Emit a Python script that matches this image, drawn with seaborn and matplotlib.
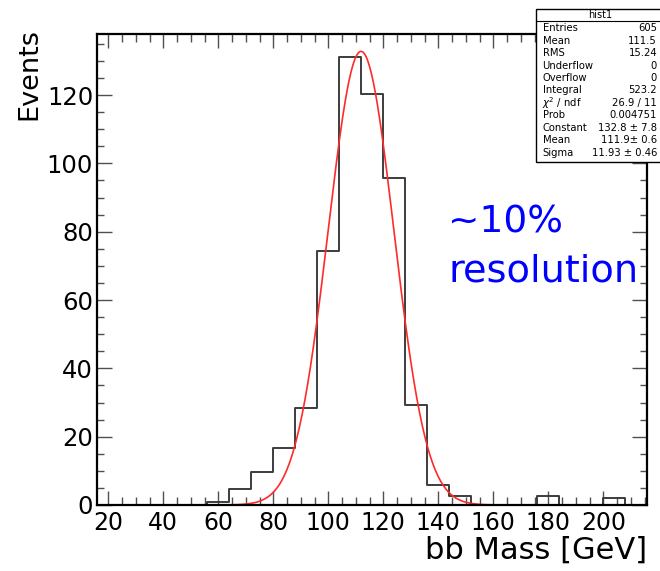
import numpy as np
import pandas as pd
import matplotlib
matplotlib.use("Agg")
import matplotlib.pyplot as plt
from matplotlib.patches import Rectangle
from matplotlib.lines import Line2D
from matplotlib.ticker import MultipleLocator
import seaborn as sns

# ---------------- data ----------------
bin_low = [16, 24, 32, 40, 48, 56, 64, 72, 80, 88, 96, 104, 112, 120,
           128, 136, 144, 152, 160, 168, 176, 184, 192, 200, 208]
bin_width = 8
counts = [0, 0, 0, 0, 0, 1.0, 4.6, 9.6, 16.6, 28.3, 74.4, 131.1, 120.3,
          95.8, 29.3, 5.9, 2.6, 0, 0, 0, 2.6, 0, 0, 2.0, 0]

# Gaussian fit parameters (from the stat box)
fit_constant = 132.8
fit_mean = 111.9
fit_sigma = 11.93

stat_labels = ["Entries", "Mean", "RMS", "Underflow", "Overflow", "Integral",
               r"$\chi^2$ / ndf", "Prob", "Constant", "Mean", "Sigma"]
stat_values = ["605", "111.5", "15.24", "0", "0", "523.2", "26.9 / 11",
               "0.004751", "132.8 \u00b1 7.8", "111.9\u00b1 0.6", "11.93 \u00b1 0.46"]

x_ticks = [20, 40, 60, 80, 100, 120, 140, 160, 180, 200]
y_ticks = [0, 20, 40, 60, 80, 100, 120]

# ---------------- figure ----------------
sns.set_theme(style="ticks")
plt.rcParams["font.family"] = ["DejaVu Sans"]
plt.rcParams["text.color"] = "black"
plt.rcParams["axes.labelcolor"] = "black"

W, H = 660, 571
fig = plt.figure(figsize=(W / 100, H / 100), dpi=100)
fig.patch.set_facecolor("white")
ax_l, ax_r, ax_t, ax_b = 97.3, 647.3, 34.3, 505.0
ax = fig.add_axes([ax_l / W, 1 - ax_b / H, (ax_r - ax_l) / W, (ax_b - ax_t) / H])
ax.set_facecolor("white")

edges = bin_low + [bin_low[-1] + bin_width]
centers = [b + bin_width / 2 for b in bin_low]
df = pd.DataFrame({"mass": centers, "events": counts})
sns.histplot(data=df, x="mass", weights="events", bins=edges, element="step",
             fill=False, color="#3c3c3c", linewidth=1.4, ax=ax)

xf = np.linspace(edges[0], edges[-1], 600)
yf = fit_constant * np.exp(-0.5 * ((xf - fit_mean) / fit_sigma) ** 2)
sns.lineplot(x=xf, y=yf, color="#ff2a2a", linewidth=1.2, ax=ax)

ax.set_xlim(edges[0], edges[-1])
ax.set_ylim(0, 137.8)
ax.set_xticks(x_ticks)
ax.set_yticks(y_ticks)
ax.xaxis.set_minor_locator(MultipleLocator(5))
ax.yaxis.set_minor_locator(MultipleLocator(5))
ax.tick_params(which="both", direction="in", top=True, right=True,
               color="#505050", width=1.0, labelcolor="black")
ax.tick_params(axis="x", which="major", length=10, labelsize=17, pad=4)
ax.tick_params(axis="x", which="minor", length=5.5)
ax.tick_params(axis="y", which="major", length=11, labelsize=17.5, pad=3)
ax.tick_params(axis="y", which="minor", length=5.3)
for s in ax.spines.values():
    s.set_visible(True)
    s.set_color("black")
    s.set_linewidth(1.6)

ax.set_xlabel("bb Mass [GeV]", fontsize=22, loc="right", color="black")
ax.xaxis.set_label_coords(1.0, -0.065)
ax.set_ylabel("Events", fontsize=19.5, loc="top", color="black")
ax.yaxis.set_label_coords(-0.1, 1.013)

# annotation
fig.text(448 / W, 1 - 233 / H, "~10%", color="#0000ff", fontsize=27,
         ha="left", va="baseline")
fig.text(448 / W, 1 - 282 / H, "resolution", color="#0000ff", fontsize=27.5,
         ha="left", va="baseline")

# stat box
bx0, bx1, by0, by1 = 536, 664, 9.3, 161.7
fig.patches.append(Rectangle((bx0 / W, 1 - by1 / H), (bx1 - bx0) / W,
                             (by1 - by0) / H, transform=fig.transFigure,
                             facecolor="white", edgecolor="black",
                             linewidth=1.0, zorder=5))
fig.lines.append(Line2D([bx0 / W, bx1 / W], [1 - 20.5 / H, 1 - 20.5 / H],
                        transform=fig.transFigure, color="black",
                        linewidth=0.8, zorder=6))
fig.text(600 / W, 1 - 15 / H, "hist1", fontsize=7, ha="center", va="center",
         zorder=7)
for i, (lab, val) in enumerate(zip(stat_labels, stat_values)):
    yy = 1 - (28.3 + i * 12.44) / H
    fig.text(542.5 / W, yy, lab, fontsize=7.2, ha="left", va="center", zorder=7)
    fig.text(657 / W, yy, val, fontsize=7.2, ha="right", va="center", zorder=7)

fig.savefig("out.png", dpi=100)
